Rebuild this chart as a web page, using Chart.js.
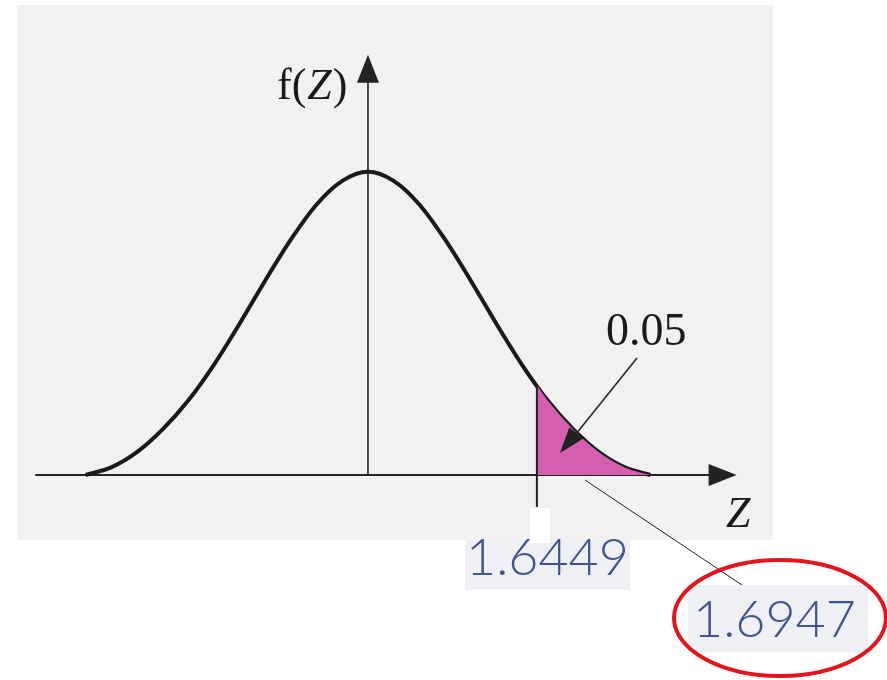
<!DOCTYPE html>
<html>
<head>
<meta charset="utf-8">
<script src="https://cdn.jsdelivr.net/npm/chart.js@4/dist/chart.umd.min.js"></script>
<style>
  html, body { margin: 0; padding: 0; background: #ffffff; }
  #wrap { width: 887px; height: 680px; }
</style>
</head>
<body>
<div id="wrap"><canvas id="zChart" width="887" height="680"></canvas></div>
<script>
// density curve f(Z)
const zValues = [-2.75, -2.5, -2.25, -2.0, -1.75, -1.5, -1.25, -1.0, -0.75, -0.5, -0.25, 0,
                 0.25, 0.5, 0.75, 1.0, 1.25, 1.5, 1.75, 2.0, 2.25, 2.5, 2.75];
const fValues = [0.000, 0.010, 0.030, 0.060, 0.098, 0.145, 0.199, 0.256, 0.310, 0.356, 0.387, 0.399,
                 0.387, 0.356, 0.310, 0.256, 0.199, 0.145, 0.098, 0.060, 0.030, 0.010, 0.000];

// upper tail beyond the critical value
const critical = 1.6449;
const tailZ = [1.6449, 1.75, 2.0, 2.25, 2.5, 2.75];
const tailF = [0.118, 0.098, 0.060, 0.030, 0.010, 0.000];

const tailLabel = '0.05';
const critLabel = '1.6449';
const otherLabel = '1.6947';

const curvePoints = zValues.map((z, i) => ({ x: z, y: fValues[i] }));
const tailPoints = tailZ.map((z, i) => ({ x: z, y: tailF[i] }));

function arrowHead(ctx, x1, y1, x2, y2, len, half) {
    const a = Math.atan2(y2 - y1, x2 - x1);
    ctx.beginPath();
    ctx.moveTo(x2, y2);
    ctx.lineTo(x2 - len * Math.cos(a) + half * Math.sin(a), y2 - len * Math.sin(a) - half * Math.cos(a));
    ctx.lineTo(x2 - len * Math.cos(a) - half * Math.sin(a), y2 - len * Math.sin(a) + half * Math.cos(a));
    ctx.closePath();
    ctx.fill();
}

// gray panel and the two axes with arrows
const axesPlugin = {
    id: 'axes',
    beforeDatasetsDraw(chart) {
        const ctx = chart.ctx;
        const x = chart.scales.x, y = chart.scales.y;
        ctx.save();
        ctx.fillStyle = '#f1f1f1';
        ctx.fillRect(17, 5, 756, 535);

        ctx.strokeStyle = '#222';
        ctx.fillStyle = '#222';
        const y0 = y.getPixelForValue(0);
        const x0 = x.getPixelForValue(0);

        // Z axis
        ctx.lineWidth = 2;
        ctx.beginPath();
        ctx.moveTo(x.getPixelForValue(-3.24), y0);
        ctx.lineTo(x.getPixelForValue(3.35), y0);
        ctx.stroke();
        arrowHead(ctx, x0, y0, x.getPixelForValue(3.59), y0, 28, 11);

        // f(Z) axis
        ctx.lineWidth = 1.6;
        ctx.beginPath();
        ctx.moveTo(x0, y0);
        ctx.lineTo(x0, y.getPixelForValue(0.52));
        ctx.stroke();
        arrowHead(ctx, x0, y0, x0, y.getPixelForValue(0.553), 28, 11);
        ctx.restore();
    },
    afterDatasetsDraw(chart) {
        const ctx = chart.ctx;
        const x = chart.scales.x, y = chart.scales.y;
        const xc = x.getPixelForValue(critical);
        ctx.save();

        // critical value tick
        ctx.strokeStyle = '#222';
        ctx.lineWidth = 2;
        ctx.beginPath();
        ctx.moveTo(xc, y.getPixelForValue(tailF[0]));
        ctx.lineTo(xc, y.getPixelForValue(-0.042));
        ctx.stroke();

        // pointer to the shaded area
        ctx.strokeStyle = '#333';
        ctx.fillStyle = '#222';
        ctx.lineWidth = 1.8;
        ctx.beginPath();
        ctx.moveTo(637, 358);
        ctx.lineTo(572, 439);
        ctx.stroke();
        arrowHead(ctx, 637, 358, 560, 453, 26, 9);

        // axis labels: f( italic Z )
        ctx.fillStyle = '#1a1a1a';
        ctx.textBaseline = 'alphabetic';
        ctx.textAlign = 'left';
        const roman = '44px "Liberation Serif", serif';
        const italic = 'italic 44px "Liberation Serif", serif';
        let lx = 277;
        ctx.font = roman;
        ctx.fillText('f(', lx, 99);
        lx += ctx.measureText('f(').width + 1;
        ctx.font = italic;
        ctx.fillText('Z', lx, 99);
        lx += ctx.measureText('Z').width + 1;
        ctx.font = roman;
        ctx.fillText(')', lx, 99);

        ctx.font = '46px "Liberation Serif", serif';
        ctx.fillText(tailLabel, 606, 345);
        ctx.font = 'italic 44px "Liberation Serif", serif';
        ctx.fillText('Z', 726, 527);

        // connector to the second value
        ctx.strokeStyle = '#222';
        ctx.lineWidth = 1;
        ctx.beginPath();
        ctx.moveTo(585, 480);
        ctx.lineTo(742, 585);
        ctx.stroke();

        // value boxes
        ctx.fillStyle = '#eef0f3';
        ctx.fillRect(465, 540, 165, 50);
        ctx.fillRect(688, 585, 180, 67);
        ctx.fillStyle = '#ffffff';
        ctx.fillRect(530, 508, 20, 35);

        ctx.fillStyle = '#42548e';
        ctx.font = '300 52px Lato, "DejaVu Sans", sans-serif';
        ctx.fillText(critLabel, 466, 575);
        ctx.fillText(otherLabel, 693, 637);

        // red ring around the second value
        ctx.strokeStyle = '#e3141b';
        ctx.lineWidth = 4;
        ctx.beginPath();
        ctx.ellipse(780, 618, 106, 58, 0, 0, Math.PI * 2);
        ctx.stroke();
        ctx.restore();
    }
};

new Chart(document.getElementById('zChart'), {
    type: 'line',
    data: {
        datasets: [
            {
                data: tailPoints,
                borderWidth: 0,
                pointRadius: 0,
                fill: 'origin',
                backgroundColor: '#d45fae',
                cubicInterpolationMode: 'monotone'
            },
            {
                data: curvePoints,
                borderColor: '#1a1a1a',
                borderWidth: 4,
                pointRadius: 0,
                fill: false,
                cubicInterpolationMode: 'monotone'
            }
        ]
    },
    options: {
        responsive: false,
        animation: false,
        layout: { padding: 0 },
        plugins: {
            legend: { display: false },
            tooltip: { enabled: false }
        },
        scales: {
            x: { type: 'linear', display: false, min: -3.583, max: 5.054 },
            y: { type: 'linear', display: false, min: -0.2697, max: 0.625 }
        }
    },
    plugins: [axesPlugin]
});
</script>
</body>
</html>
